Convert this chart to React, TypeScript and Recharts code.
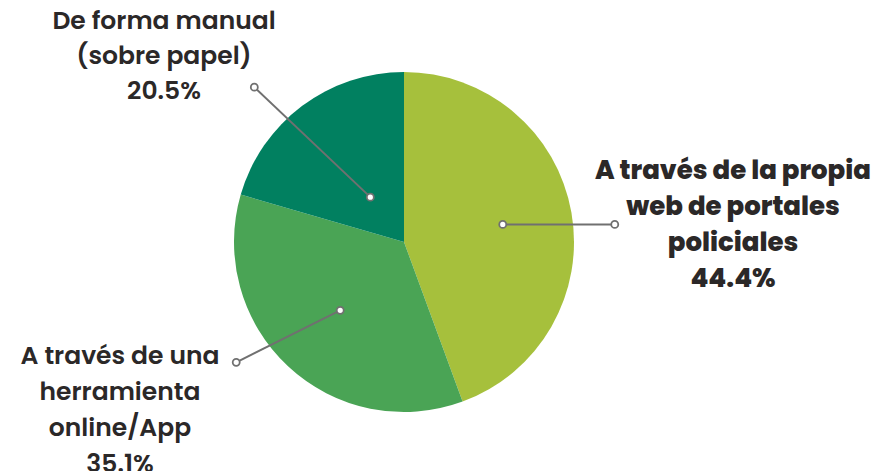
import { PieChart, Pie, Cell } from 'recharts';

const categories = [
  'A través de la propia web de portales policiales',
  'A través de una herramienta online/App',
  'De forma manual (sobre papel)',
];
const shares = [44.4, 35.1, 20.5];
const labelLines = [
  ['A través de la propia', 'web de portales', 'policiales'],
  ['A través de una', 'herramienta', 'online/App'],
  ['De forma manual', '(sobre papel)'],
];

const COLORS = ['#a6c03c', '#4aa455', '#018060'];

// label layout per slice: inner dot radius fraction, outer dot offset, text block position
const LAYOUT = [
  { r: 0.59, dx: 112, dy: 0, tx: 733, ty: 170, weight: 800, spacing: 36, size: 26 },
  { r: 0.55, dx: -104, dy: 52, tx: 120, ty: 355, weight: 600, spacing: 36, size: 25 },
  { r: 0.33, dx: -116, dy: -110, tx: 164, ty: 20, weight: 600, spacing: 35, size: 25 },
];

const data = categories.map((name, i) => ({ name, value: shares[i] }));

const RADIAN = Math.PI / 180;

const renderLabel = (props: any) => {
  const { cx, cy, midAngle, outerRadius, index } = props;
  const l = LAYOUT[index];
  const x1 = cx + outerRadius * l.r * Math.cos(-midAngle * RADIAN);
  const y1 = cy + outerRadius * l.r * Math.sin(-midAngle * RADIAN);
  const x2 = x1 + l.dx;
  const y2 = y1 + l.dy;
  const lines = [...labelLines[index], `${shares[index].toFixed(1)}%`];
  return (
    <g key={`lbl-${index}`}>
      <line x1={x1} y1={y1} x2={x2} y2={y2} stroke="#707070" strokeWidth={2} />
      <circle cx={x1} cy={y1} r={3.5} fill="#fff" stroke="#707070" strokeWidth={1.8} />
      <circle cx={x2} cy={y2} r={3.5} fill="#fff" stroke="#707070" strokeWidth={1.8} />
      <text
        x={l.tx}
        y={l.ty}
        textAnchor="middle"
        dominantBaseline="central"
        fill="#2b2828"
        fontSize={l.size}
        fontWeight={l.weight}
        fontFamily="Poppins, 'Noto Sans', sans-serif"
      >
        {lines.map((t, k) => (
          <tspan key={k} x={l.tx} y={l.ty + k * l.spacing}>
            {t}
          </tspan>
        ))}
      </text>
    </g>
  );
};

export default function App() {
  return (
    <div style={{ width: 889, height: 471, background: '#fff' }}>
      <style>{`body{margin:0}`}</style>
      <PieChart width={889} height={471} margin={{ top: 0, right: 0, bottom: 0, left: 0 }}>
        <Pie
          data={data}
          dataKey="value"
          cx={404}
          cy={242}
          outerRadius={170}
          startAngle={90}
          endAngle={-270}
          stroke="none"
          label={renderLabel}
          labelLine={false}
          isAnimationActive={false}
        >
          {data.map((_, i) => (
            <Cell key={i} fill={COLORS[i]} />
          ))}
        </Pie>
      </PieChart>
    </div>
  );
}
